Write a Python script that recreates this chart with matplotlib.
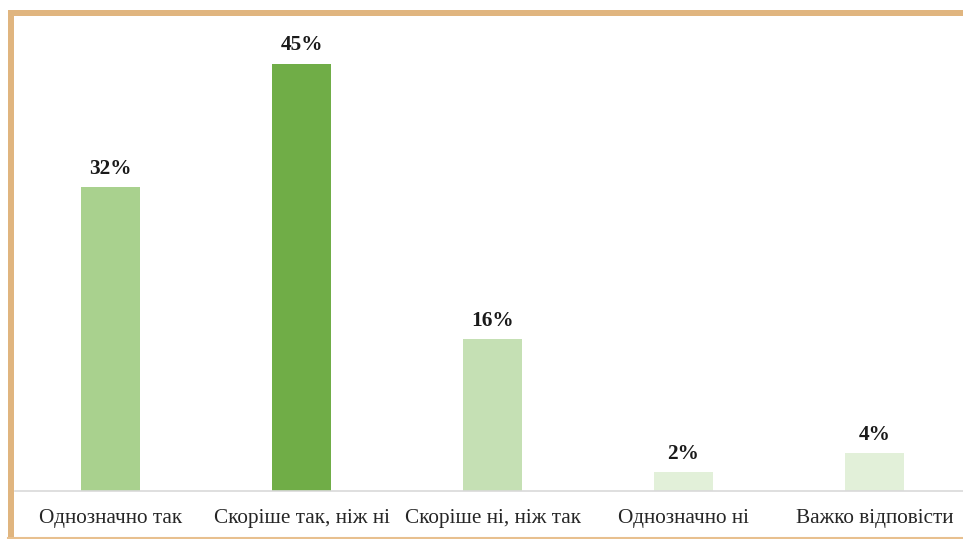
import matplotlib
matplotlib.use("Agg")
import matplotlib.pyplot as plt
from matplotlib.patches import Rectangle
from matplotlib.lines import Line2D

categories = ["Однозначно так", "Скоріше так, ніж ні", "Скоріше ні, ніж так", "Однозначно ні", "Важко відповісти"]
values = [32, 45, 16, 2, 4]
labels = ["32%", "45%", "16%", "2%", "4%"]
colors = ["#A9D18E", "#70AD47", "#C5E0B4", "#E2F0D9", "#E2F0D9"]

W, H = 963, 539
fig = plt.figure(figsize=(W / 100, H / 100), dpi=100)
fig.patch.set_facecolor("white")

left_px, right_px = 15, 970
bottom_px, top_px = 491, 16
ax = fig.add_axes([left_px / W, (H - bottom_px) / H, (right_px - left_px) / W, (bottom_px - top_px) / H])
x = list(range(len(categories)))
ax.bar(x, values, width=0.31, color=colors, zorder=2)
ax.set_xlim(-0.5, len(categories) - 0.5)
ax.set_ylim(0, 50)
for xi, v, lab in zip(x, values, labels):
    ax.annotate(lab, (xi, v), xytext=(0, 6), textcoords="offset points", ha="center", va="bottom",
                fontsize=15.3, fontweight="bold", family="Liberation Serif", color="#1a1a1a")
ax.set_xticks(x)
ax.set_xticklabels(categories, fontsize=15.3, family="Liberation Serif", color="#262626")
ax.tick_params(axis="x", length=0, pad=13)
ax.set_yticks([])
for s in ["left", "right", "top"]:
    ax.spines[s].set_visible(False)
ax.spines["bottom"].set_color("#D9D9D9")
ax.spines["bottom"].set_linewidth(1.2)

# frame decoration
border = "#E0B57F"
fig.add_artist(Rectangle((8 / W, 0), 6 / W, (H - 10) / H, transform=fig.transFigure, color=border, lw=0))
fig.add_artist(Rectangle((8 / W, (H - 16) / H), (W - 8) / W, 6 / H, transform=fig.transFigure, color=border, lw=0))
fig.add_artist(Line2D([8 / W, 1], [1.5 / H, 1.5 / H], transform=fig.transFigure, color="#E8C08F", lw=1.5))

fig.savefig("out.png", dpi=100, facecolor="white")
